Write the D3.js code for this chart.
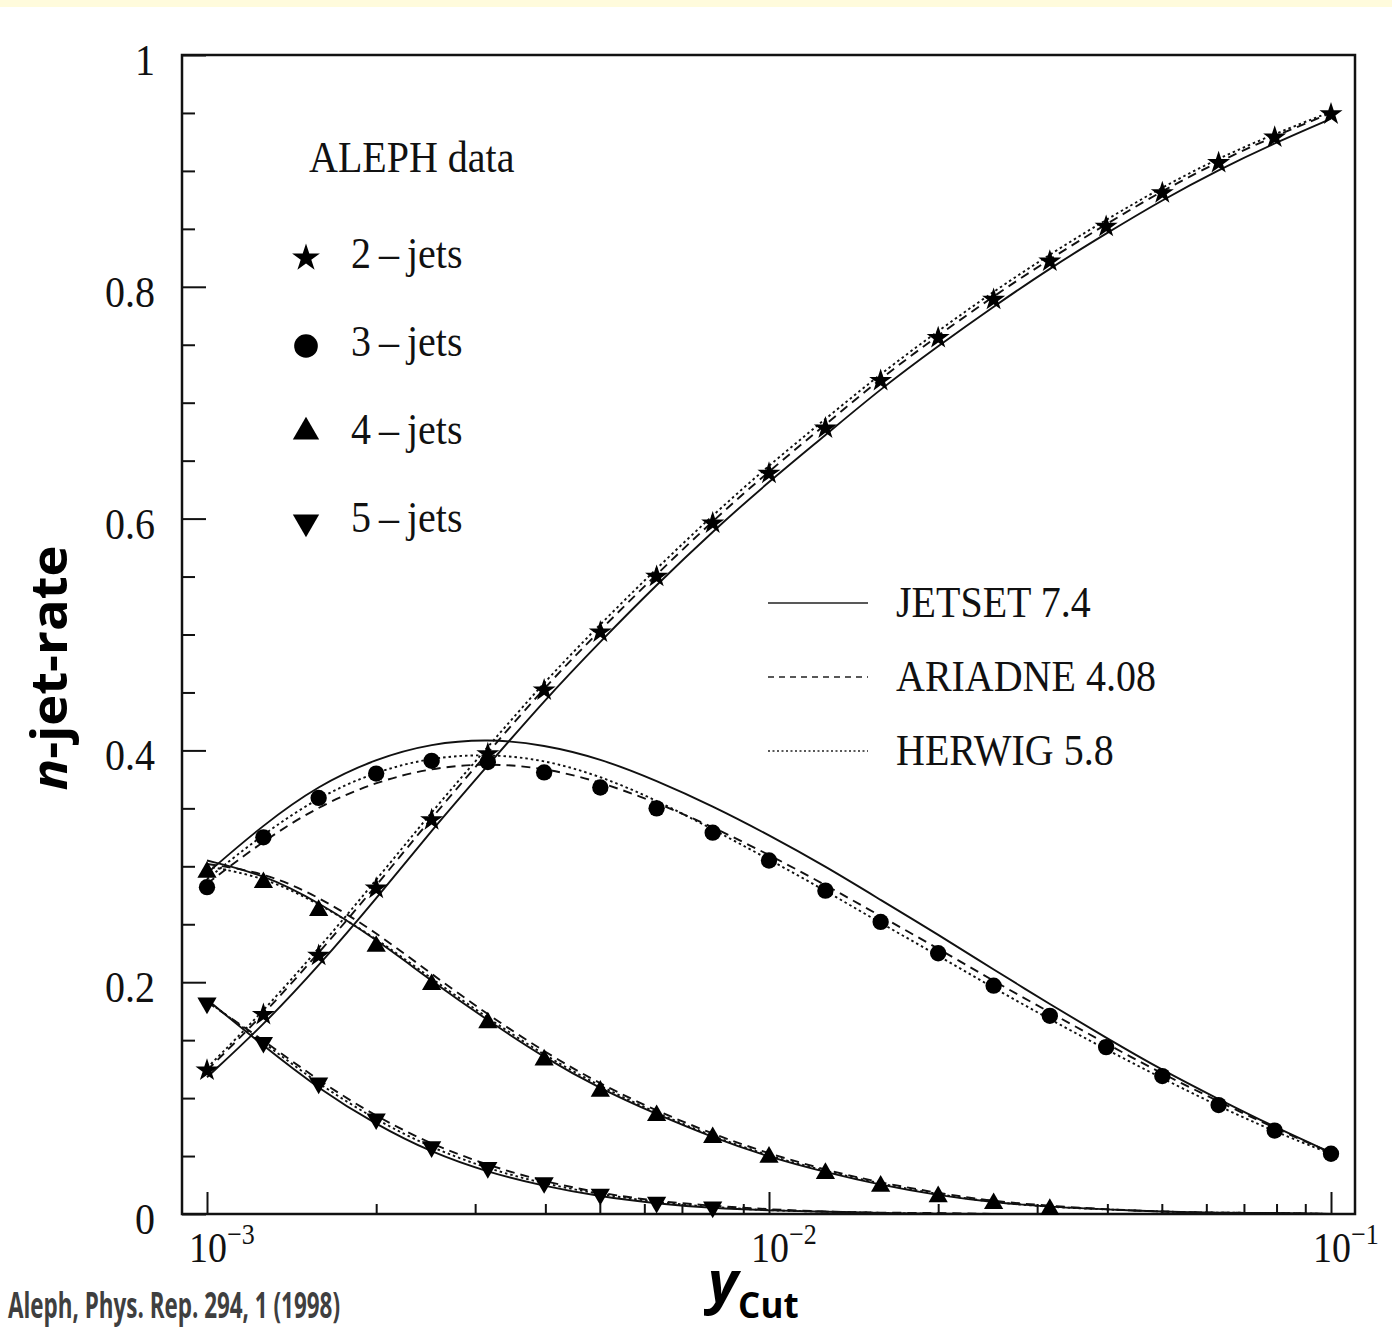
<!DOCTYPE html>
<html>
<head>
<meta charset="utf-8">
<script src="https://cdn.jsdelivr.net/npm/d3@7"></script>
<style>
  body { margin: 0; background: #fff; }
  svg { display: block; }
</style>
</head>
<body>
<div id="chart"></div>
<script>
// y_cut sampling points (0.1 decade steps)
var yCut = [0.001, 0.00126, 0.00158, 0.002, 0.00251, 0.00316, 0.00398, 0.00501, 0.00631, 0.00794,
            0.01, 0.0126, 0.0158, 0.02, 0.0251, 0.0316, 0.0398, 0.0501, 0.0631, 0.0794, 0.1];

// ALEPH data points
var data2 = [0.124, 0.172, 0.223, 0.281, 0.340, 0.397, 0.452, 0.502, 0.550, 0.596, 0.639,
             0.678, 0.719, 0.756, 0.789, 0.822, 0.852, 0.881, 0.907, 0.929, 0.949];
var data3 = [0.282, 0.325, 0.359, 0.380, 0.391, 0.390, 0.381, 0.368, 0.350, 0.329, 0.305,
             0.279, 0.252, 0.225, 0.197, 0.171, 0.144, 0.119, 0.094, 0.072, 0.052];
var data4 = [0.295, 0.286, 0.262, 0.231, 0.198, 0.165, 0.133, 0.106, 0.085, 0.066, 0.049,
             0.035, 0.024, 0.015, 0.009, 0.004];
var data5 = [0.182, 0.148, 0.113, 0.082, 0.058, 0.040, 0.027, 0.017, 0.010, 0.006];

// model curves
var jetset2  = [0.118, 0.163, 0.214, 0.272, 0.331, 0.387, 0.443, 0.494, 0.543, 0.589, 0.632,
                0.672, 0.712, 0.749, 0.783, 0.816, 0.846, 0.875, 0.901, 0.924, 0.945];
var ariadne2 = [0.124, 0.172, 0.225, 0.283, 0.342, 0.398, 0.454, 0.504, 0.552, 0.598, 0.641,
                0.681, 0.721, 0.758, 0.792, 0.824, 0.854, 0.883, 0.908, 0.930, 0.950];
var herwig2  = [0.126, 0.175, 0.229, 0.288, 0.347, 0.403, 0.459, 0.509, 0.557, 0.603, 0.646,
                0.686, 0.725, 0.762, 0.796, 0.828, 0.858, 0.886, 0.911, 0.932, 0.951];

var jetset3  = [0.294, 0.336, 0.370, 0.393, 0.406, 0.410, 0.405, 0.393, 0.374, 0.352, 0.327,
                0.300, 0.271, 0.241, 0.211, 0.181, 0.152, 0.124, 0.099, 0.075, 0.053];
var ariadne3 = [0.285, 0.322, 0.352, 0.373, 0.385, 0.389, 0.385, 0.373, 0.355, 0.334, 0.310,
                0.284, 0.257, 0.229, 0.201, 0.174, 0.147, 0.121, 0.097, 0.074, 0.053];
var herwig3  = [0.289, 0.328, 0.360, 0.382, 0.394, 0.397, 0.392, 0.378, 0.357, 0.332, 0.306,
                0.279, 0.251, 0.223, 0.195, 0.168, 0.142, 0.117, 0.093, 0.071, 0.052];

var jetset4  = [0.305, 0.293, 0.269, 0.237, 0.201, 0.167, 0.135, 0.108, 0.086, 0.066, 0.049,
                0.036, 0.025, 0.016, 0.010, 0.006, 0.004, 0.002, 0.001, 0.001, 0.000];
var ariadne4 = [0.302, 0.295, 0.274, 0.243, 0.207, 0.172, 0.140, 0.112, 0.089, 0.069, 0.052,
                0.038, 0.027, 0.018, 0.011, 0.007, 0.004, 0.002, 0.001, 0.001, 0.000];
var herwig4  = [0.300, 0.291, 0.268, 0.238, 0.203, 0.169, 0.137, 0.110, 0.087, 0.067, 0.050,
                0.037, 0.026, 0.017, 0.010, 0.006, 0.004, 0.002, 0.001, 0.001, 0.000];

var jetset5  = [0.185, 0.145, 0.108, 0.077, 0.053, 0.036, 0.024, 0.015, 0.009, 0.005, 0.003,
                0.002, 0.001, 0.000, 0.000];
var ariadne5 = [0.183, 0.150, 0.115, 0.084, 0.060, 0.042, 0.028, 0.018, 0.011, 0.007, 0.004,
                0.002, 0.001, 0.001, 0.000];
var herwig5  = [0.184, 0.148, 0.112, 0.081, 0.057, 0.039, 0.026, 0.017, 0.010, 0.006, 0.003,
                0.002, 0.001, 0.000, 0.000];

// ticks and labels
var yMajorTicks = [0, 0.2, 0.4, 0.6, 0.8, 1];
var yTickLabels = ["0", "0.2", "0.4", "0.6", "0.8", "1"];
var yMinorTicks = [0.05, 0.1, 0.15, 0.25, 0.3, 0.35, 0.45, 0.5, 0.55, 0.65, 0.7, 0.75, 0.85, 0.9, 0.95];
var xMajorTicks = [0.001, 0.01, 0.1];
var xTickExponents = ["\u22123", "\u22122", "\u22121"];
var xMinorTicks = [0.002, 0.003, 0.004, 0.005, 0.006, 0.007, 0.008, 0.009,
                   0.02, 0.03, 0.04, 0.05, 0.06, 0.07, 0.08, 0.09];

var jetNames = ["2\u2009\u2013\u2009jets", "3\u2009\u2013\u2009jets", "4\u2009\u2013\u2009jets", "5\u2009\u2013\u2009jets"];
var modelNames = ["JETSET 7.4", "ARIADNE 4.08", "HERWIG 5.8"];

var width = 1392, height = 1333;
var frame = {left: 182, right: 1355, top: 55, bottom: 1214};
var serif = "'Liberation Serif', 'Times New Roman', serif";
var sans = "'Open Sans', 'Liberation Sans', sans-serif";
var vStretch = 1.12;

var svg = d3.select("#chart").append("svg")
  .attr("xmlns", "http://www.w3.org/2000/svg")
  .attr("width", width)
  .attr("height", height);

svg.append("rect").attr("width", width).attr("height", height).attr("fill", "#fff");
svg.append("rect").attr("width", width).attr("height", 7).attr("fill", "#fffbdc");

var x = d3.scaleLog().domain([0.001, 0.1]).range([207, 1331]);
var y = d3.scaleLinear().domain([0, 1]).range([1214, 55]);

/* ticks (inward) */
function tickStyle(g) {
  g.select(".domain").remove();
  g.selectAll("line").attr("stroke", "#111").attr("stroke-width", 2);
}
svg.append("g").attr("transform", "translate(" + frame.left + ",0)")
  .call(d3.axisLeft(y).tickValues(yMajorTicks).tickSize(-24).tickFormat(""))
  .call(tickStyle);
svg.append("g").attr("transform", "translate(" + frame.left + ",0)")
  .call(d3.axisLeft(y).tickValues(yMinorTicks).tickSize(-13).tickFormat(""))
  .call(tickStyle);
svg.append("g").attr("transform", "translate(0," + frame.bottom + ")")
  .call(d3.axisBottom(x).tickValues(xMajorTicks).tickSize(-22).tickFormat(""))
  .call(tickStyle);
svg.append("g").attr("transform", "translate(0," + frame.bottom + ")")
  .call(d3.axisBottom(x).tickValues(xMinorTicks).tickSize(-10).tickFormat(""))
  .call(tickStyle);

/* frame */
svg.append("rect")
  .attr("x", frame.left).attr("y", frame.top)
  .attr("width", frame.right - frame.left).attr("height", frame.bottom - frame.top)
  .attr("fill", "none").attr("stroke", "#111").attr("stroke-width", 2.5);

/* tick labels */
svg.append("g").selectAll("text")
  .data(yMajorTicks).enter()
  .append("text")
  .attr("transform", function(d) { return "translate(155," + (y(d) + 20) + ") scale(1," + vStretch + ")"; })
  .attr("text-anchor", "end")
  .attr("font-family", serif).attr("font-size", 40).attr("fill", "#111")
  .text(function(d, i) { return yTickLabels[i]; });

var xl = svg.append("g").selectAll("text")
  .data(xMajorTicks).enter()
  .append("text")
  .attr("transform", function(d) { return "translate(" + (x(d) - 18) + "," + 1262 + ") scale(1," + vStretch + ")"; })
  .attr("font-family", serif).attr("font-size", 38).attr("fill", "#111");
xl.append("tspan").text("10");
xl.append("tspan").attr("dy", -16).attr("font-size", 26).text(function(d, i) { return xTickExponents[i]; });

/* model curves */
var line = d3.line().curve(d3.curveBasis)
  .x(function(d) { return x(d[0]); })
  .y(function(d) { return y(d[1]); });

function pairs(vals) { return vals.map(function(v, i) { return [yCut[i], v]; }); }

var styles = [
  {dash: null, w: 1.9},
  {dash: "9,6", w: 1.9},
  {dash: "2.5,3", w: 1.9}
];
var models = [
  [jetset2, ariadne2, herwig2],
  [jetset3, ariadne3, herwig3],
  [jetset4, ariadne4, herwig4],
  [jetset5, ariadne5, herwig5]
];

var curves = svg.append("g").attr("fill", "none").attr("stroke", "#111");
models.forEach(function(set) {
  set.forEach(function(vals, m) {
    curves.append("path")
      .attr("d", line(pairs(vals)))
      .attr("stroke-width", styles[m].w)
      .attr("stroke-dasharray", styles[m].dash);
  });
});

/* data markers */
var symbols = [
  {type: d3.symbolStar, size: 165, rot: 0, lsize: 240},
  {type: d3.symbolCircle, size: 210, rot: 0, lsize: 440},
  {type: d3.symbolTriangle, size: 160, rot: 0, lsize: 300},
  {type: d3.symbolTriangle, size: 160, rot: 180, lsize: 300}
];
var dataSets = [data2, data3, data4, data5];

var marks = svg.append("g").attr("fill", "#000");
dataSets.forEach(function(vals, s) {
  marks.selectAll(".m" + s)
    .data(pairs(vals)).enter()
    .append("path")
    .attr("class", "m" + s)
    .attr("d", d3.symbol().type(symbols[s].type).size(symbols[s].size))
    .attr("transform", function(d) { return "translate(" + x(d[0]) + "," + y(d[1]) + ") rotate(" + symbols[s].rot + ")"; });
});

/* data legend */
svg.append("text")
  .attr("transform", "translate(309,172) scale(1," + vStretch + ")")
  .attr("font-family", serif).attr("font-size", 40).attr("fill", "#111")
  .text("ALEPH data");

var leg = svg.append("g").selectAll("g")
  .data(jetNames).enter()
  .append("g")
  .attr("transform", function(d, i) { return "translate(0," + (i * 88) + ")"; });
leg.append("path")
  .attr("d", function(d, i) { return d3.symbol().type(symbols[i].type).size(symbols[i].lsize)(); })
  .attr("transform", function(d, i) { return "translate(306," + (258 + (i === 2 ? -2 : 0)) + ") rotate(" + symbols[i].rot + ")"; })
  .attr("fill", "#000");
leg.append("text")
  .attr("transform", "translate(351,268) scale(1," + vStretch + ")")
  .attr("font-family", serif).attr("font-size", 40).attr("fill", "#111")
  .text(function(d) { return d; });

/* model legend */
var mleg = svg.append("g").selectAll("g")
  .data(modelNames).enter()
  .append("g")
  .attr("transform", function(d, i) { return "translate(0," + (i * 74) + ")"; });
mleg.append("line")
  .attr("x1", 768).attr("x2", 868).attr("y1", 603).attr("y2", 603)
  .attr("stroke", "#222").attr("stroke-width", 1.6)
  .attr("stroke-dasharray", function(d, i) { return i === 0 ? null : (i === 1 ? "6,5" : "2,2.5"); });
mleg.append("text")
  .attr("transform", "translate(896,617) scale(1," + vStretch + ")")
  .attr("font-family", serif).attr("font-size", 40).attr("fill", "#111")
  .text(function(d) { return d; });

/* axis titles */
var ytitle = svg.append("text")
  .attr("transform", "translate(67,668) rotate(-90)")
  .attr("text-anchor", "middle")
  .attr("font-family", sans)
  .attr("font-weight", 700).attr("font-size", 50).attr("fill", "#000")
  .attr("textLength", 245).attr("lengthAdjust", "spacingAndGlyphs");
ytitle.append("tspan").attr("font-style", "italic").text("n");
ytitle.append("tspan").text("-jet-rate");

var xtitle = svg.append("text")
  .attr("x", 708).attr("y", 1302)
  .attr("font-family", sans)
  .attr("font-weight", 700).attr("fill", "#000");
xtitle.append("tspan").attr("font-style", "italic").attr("font-size", 58).text("y");
xtitle.append("tspan").attr("font-size", 35).attr("dy", 16).text("Cut");

svg.append("text")
  .attr("x", 8).attr("y", 1318)
  .attr("font-family", sans)
  .attr("font-weight", 700).attr("font-size", 36).attr("fill", "#3f3f3f")
  .attr("textLength", 332).attr("lengthAdjust", "spacingAndGlyphs")
  .text("Aleph, Phys. Rep. 294, 1 (1998)");
</script>
</body>
</html>
